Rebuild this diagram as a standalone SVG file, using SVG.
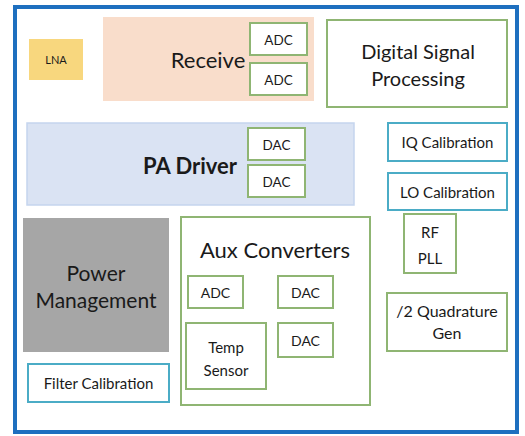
<svg xmlns="http://www.w3.org/2000/svg" width="525" height="436" viewBox="0 0 525 436">
<style>
text{font-family:Lato,"Open Sans","Liberation Sans",sans-serif;fill:#1a1a1a;text-anchor:middle}
.g{fill:#fff;stroke:#8fb573;stroke-width:2}
.t{fill:#fff;stroke:#4bacc6;stroke-width:2}
.s{font-size:13.5px}
.a{font-size:14px}
.m{font-size:15px}
.l{font-size:20px}
</style>
<rect width="525" height="436" fill="#fff"/>
<rect id="frame" x="15" y="7" width="502" height="425" fill="#fff" stroke="#1e6fbf" stroke-width="4"/>
<g id="lna"><rect x="29" y="39" width="54" height="41" fill="#f8d77e"/><text x="56" y="64" style="font-size:11px">LNA</text></g>
<g id="receive"><rect x="103" y="17" width="211" height="84" fill="#f9ddcb"/><text x="208" y="68" style="font-size:22px">Receive</text></g>
<g id="adc1"><rect class="g" x="250" y="23" width="57" height="32"/><text class="s" x="278.5" y="45">ADC</text></g>
<g id="adc2"><rect class="g" x="250" y="63" width="57" height="32"/><text class="s" x="278.5" y="85">ADC</text></g>
<g id="dsp"><rect class="g" x="327" y="20" width="180" height="87"/><text class="l" x="418" y="59">Digital Signal</text><text class="l" x="418" y="86">Processing</text></g>
<g id="pa"><rect x="27" y="123" width="327" height="82" fill="#dae3f3" stroke="#c5d5ee" stroke-width="1.5"/><text x="190" y="174" style="font-size:22px;font-weight:bold">PA Driver</text></g>
<g id="dac1"><rect class="g" x="248" y="128" width="57" height="32"/><text class="s" x="276.5" y="150">DAC</text></g>
<g id="dac2"><rect class="g" x="248" y="165" width="57" height="32"/><text class="s" x="276.5" y="187">DAC</text></g>
<g id="iq"><rect class="t" x="388" y="123" width="119" height="38"/><text class="m" x="447.5" y="148">IQ Calibration</text></g>
<g id="lo"><rect class="t" x="388" y="173" width="119" height="37"/><text class="m" x="447.5" y="198">LO Calibration</text></g>
<g id="power"><rect x="23" y="218" width="146" height="134" fill="#a6a6a6"/><text x="96" y="281" style="font-size:21px">Power</text><text x="96" y="308" style="font-size:21px">Management</text></g>
<g id="filter"><rect class="t" x="28" y="364" width="141" height="38"/><text class="m" x="98.5" y="389">Filter Calibration</text></g>
<g id="aux"><rect class="g" x="181" y="217" width="189" height="188"/><text x="275" y="258" style="font-size:22px">Aux Converters</text></g>
<g id="auxadc"><rect class="g" x="188" y="276" width="55" height="32"/><text class="a" x="215.5" y="298">ADC</text></g>
<g id="auxdac1"><rect class="g" x="278" y="276" width="55" height="32"/><text class="a" x="305.5" y="298">DAC</text></g>
<g id="temp"><rect class="g" x="186" y="323" width="80" height="66"/><text class="m" x="226" y="353">Temp</text><text class="m" x="226" y="376">Sensor</text></g>
<g id="auxdac2"><rect class="g" x="278" y="323" width="55" height="34"/><text class="a" x="305.5" y="346">DAC</text></g>
<g id="pll"><rect class="g" x="404" y="214" width="52" height="59"/><text class="m" x="430" y="238">RF</text><text class="m" x="430" y="264">PLL</text></g>
<g id="quad"><rect class="g" x="387" y="293" width="120" height="58"/><text x="447" y="317" style="font-size:16px">/2 Quadrature</text><text x="447" y="339" style="font-size:16px">Gen</text></g>
<g id="connectors"></g>
</svg>
